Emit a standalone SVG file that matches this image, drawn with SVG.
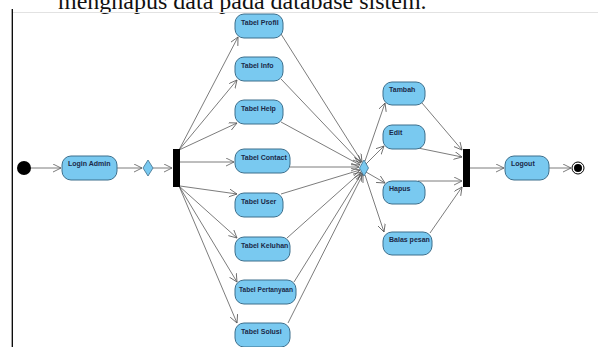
<svg xmlns="http://www.w3.org/2000/svg" width="598" height="347" viewBox="0 0 598 347">
  <defs>
    <style>
      .act rect { fill: #79c9f0; stroke: #3d6f8c; stroke-width: 1; }
      .act text { font-family: "Liberation Sans", Arial, sans-serif; font-size: 7px; font-weight: bold; fill: #1b2a48; }
      .bar { fill: #000; }
      .dec { fill: #79c9f0; stroke: #3d6f8c; stroke-width: 0.8; }
      #edges line, #edges path { stroke: #5a5a5a; stroke-width: 0.8; fill: none; marker-end: url(#arr); }
      .caption { font-family: "Liberation Serif", "Times New Roman", serif; font-size: 24px; fill: #111; }
    </style>
    <marker id="arr" markerUnits="userSpaceOnUse" markerWidth="12" markerHeight="12" refX="8" refY="4" orient="auto">
      <path d="M0,0 L8,4 L0,8" fill="none" stroke="#5a5a5a" stroke-width="0.8"/>
    </marker>
  </defs>

  <rect width="598" height="347" fill="#fff"/>

  <!-- paragraph line above the figure -->
  <text class="caption" x="58" y="9">menghapus data pada database sistem.</text>
  <!-- figure frame -->
  <line x1="13" y1="12.5" x2="598" y2="12.5" stroke="#e2e2e2" stroke-width="1"/>
  <line x1="12.3" y1="9" x2="12.3" y2="347" stroke="#000" stroke-width="1.3"/>

  <!-- connectors -->
  <g id="edges">
    <line x1="31" y1="168" x2="61" y2="168"/>
    <line x1="117" y1="168" x2="142" y2="168"/>
    <line x1="153" y1="168" x2="172" y2="168"/>

    <!-- fork to tables -->
    <line x1="179" y1="150" x2="238" y2="37"/>
    <line x1="179" y1="150" x2="237" y2="80"/>
    <line x1="179" y1="150" x2="237" y2="123"/>
    <line x1="180" y1="162" x2="234" y2="162"/>
    <line x1="180" y1="186" x2="237" y2="194"/>
    <line x1="179" y1="186" x2="237" y2="238"/>
    <line x1="179" y1="186" x2="237" y2="282"/>
    <line x1="179" y1="186" x2="237" y2="323"/>

    <!-- tables to merge -->
    <line x1="281" y1="34" x2="362" y2="162"/>
    <line x1="281" y1="79" x2="361" y2="163"/>
    <line x1="281" y1="122" x2="360" y2="165"/>
    <line x1="290" y1="167" x2="359" y2="167"/>
    <line x1="281" y1="194" x2="360" y2="170"/>
    <line x1="287" y1="238" x2="361" y2="172"/>
    <line x1="294" y1="282" x2="362" y2="173"/>
    <line x1="288" y1="323" x2="363" y2="174"/>

    <!-- merge to actions -->
    <line x1="365" y1="161" x2="385" y2="103"/>
    <line x1="366" y1="164" x2="384" y2="146"/>
    <line x1="366" y1="172" x2="385" y2="183"/>
    <line x1="365" y1="175" x2="384" y2="232"/>

    <!-- actions to join -->
    <line x1="422" y1="103" x2="462" y2="150"/>
    <line x1="418" y1="148" x2="462" y2="157"/>
    <line x1="418" y1="181" x2="462" y2="181"/>
    <line x1="430" y1="233" x2="462" y2="187"/>

    <line x1="470" y1="168" x2="504" y2="168"/>
    <line x1="549" y1="168" x2="571" y2="168"/>
  </g>

  <g id="start"><circle cx="24" cy="168" r="7" fill="#000"/></g>

  <g id="login" class="act"><rect x="62" y="156" width="55" height="24" rx="9"/><text x="68" y="166">Login Admin</text></g>

  <g id="decision"><polygon class="dec" points="148,160 153,168 148,176 143,168"/></g>

  <g id="fork"><rect class="bar" x="173" y="149" width="7" height="38"/></g>

  <g id="tabel-profil" class="act"><rect x="235" y="14" width="48" height="24" rx="9"/><text x="241" y="25">Tabel Profil</text></g>
  <g id="tabel-info" class="act"><rect x="235" y="57" width="48" height="24" rx="9"/><text x="241" y="68">Tabel Info</text></g>
  <g id="tabel-help" class="act"><rect x="235" y="100" width="48" height="24" rx="9"/><text x="241" y="111">Tabel Help</text></g>
  <g id="tabel-contact" class="act"><rect x="235" y="149" width="55" height="24" rx="9"/><text x="241" y="160">Tabel Contact</text></g>
  <g id="tabel-user" class="act"><rect x="235" y="193" width="48" height="24" rx="9"/><text x="241" y="204">Tabel User</text></g>
  <g id="tabel-keluhan" class="act"><rect x="235" y="237" width="55" height="24" rx="9"/><text x="241" y="248">Tabel Keluhan</text></g>
  <g id="tabel-pertanyaan" class="act"><rect x="235" y="280" width="61" height="24" rx="9"/><text x="239" y="292" textLength="54" lengthAdjust="spacingAndGlyphs">Tabel Pertanyaan</text></g>
  <g id="tabel-solusi" class="act"><rect x="235" y="323" width="55" height="24" rx="9"/><text x="241" y="334">Tabel Solusi</text></g>

  <g id="merge"><polygon class="dec" points="364,160 368.5,168 364,176 359.5,168"/></g>

  <g id="tambah" class="act"><rect x="383" y="82" width="42" height="23" rx="9"/><text x="389" y="92">Tambah</text></g>
  <g id="edit" class="act"><rect x="383" y="125" width="42" height="24" rx="9"/><text x="389" y="135">Edit</text></g>
  <g id="hapus" class="act"><rect x="383" y="181" width="42" height="23" rx="9"/><text x="389" y="191">Hapus</text></g>
  <g id="balas-pesan" class="act"><rect x="383" y="232" width="49" height="23" rx="9"/><text x="389" y="242">Balas pesan</text></g>

  <g id="join"><rect class="bar" x="463" y="149" width="7" height="38"/></g>

  <g id="logout" class="act"><rect x="505" y="156" width="44" height="24" rx="9"/><text x="511" y="166">Logout</text></g>

  <g id="end">
    <circle cx="578" cy="168" r="6" fill="#fff" stroke="#000" stroke-width="1"/>
    <circle cx="578" cy="168" r="4" fill="#000"/>
  </g>
</svg>
